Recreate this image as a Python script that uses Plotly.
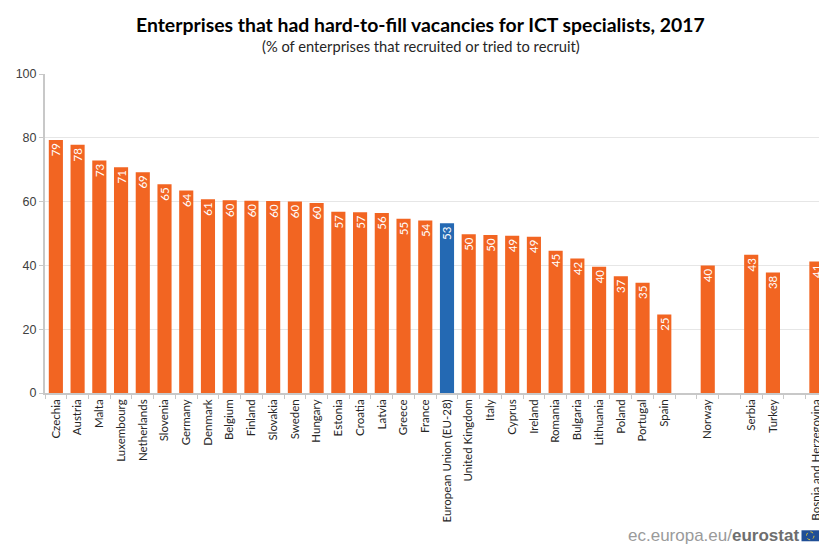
import plotly.graph_objects as go

categories = ["Czechia", "Austria", "Malta", "Luxembourg", "Netherlands", "Slovenia", "Germany",
              "Denmark", "Belgium", "Finland", "Slovakia", "Sweden", "Hungary", "Estonia", "Croatia",
              "Latvia", "Greece", "France", "European Union (EU-28)", "United Kingdom", "Italy",
              "Cyprus", "Ireland", "Romania", "Bulgaria", "Lithuania", "Poland", "Portugal", "Spain",
              " ", "Norway", "  ", "Serbia", "Turkey", "   ", "Bosnia and Herzegovina"]
values = [79.3, 77.8, 72.9, 70.8, 69.2, 65.4, 63.5, 60.7, 60.4, 60.3, 60.2, 60.0, 59.6, 56.8, 56.7,
          56.4, 54.6, 54.1, 53.2, 49.8, 49.5, 49.3, 49.0, 44.6, 42.2, 39.6, 36.6, 34.6, 24.6,
          None, 40.0, None, 43.3, 37.8, None, 41.2]
highlight = "European Union (EU-28)"
colors = ["#2469B3" if c == highlight else "#F26522" for c in categories]
title = "Enterprises that had hard-to-fill vacancies for ICT specialists, 2017"
subtitle = "(% of enterprises that recruited or tried to recruit)"

W, H = 819, 544
L, T, B = 45, 73.5, 151
plot_h = H - T - B
plot_w = W - L


def px(x):
    return (x - L) / plot_w


def py(y):
    return (H - B - y) / plot_h


fig = go.Figure(go.Bar(
    x=categories, y=values, marker=dict(color=colors, line=dict(width=0)),
    texttemplate="%{y:.0f}", textposition="inside", insidetextanchor="end", textangle=-90,
    constraintext="none",
    insidetextfont=dict(color="white", size=11.5, family="Lato"), cliponaxis=True, width=0.65,
))
fig.update_layout(
    width=W, height=H, autosize=False, showlegend=False,
    margin=dict(l=L, r=0, t=T, b=B, pad=0),
    paper_bgcolor="white", plot_bgcolor="white",
    font=dict(family="Lato", color="#404040"),
    xaxis=dict(type="category", range=[-0.5, 35.12], categoryorder="array", categoryarray=categories,
               tickson="boundaries", ticks="outside", ticklen=4, tickcolor="#C8C8C8", tickwidth=1,
               tickangle=-90, tickfont=dict(size=11.5, color="#262626", family="Lato"), tickmode="array",
               tickvals=categories, ticktext=categories,
               showline=True, linecolor="#C8C8C8", linewidth=1.5, showgrid=False, automargin=False),
    yaxis=dict(range=[0, 100], dtick=20, ticks="outside", ticklen=4, tickcolor="#C8C8C8",
               tickfont=dict(size=12.5, color="#404040", family="Liberation Sans"),
               showline=True, linecolor="#C8C8C8", linewidth=2, showgrid=True, gridcolor="#E6E6E6",
               gridwidth=1, zeroline=False, automargin=False),
)
fig.add_annotation(text=f"<b>{title}</b>", x=px(420.5), y=py(24), xref="paper", yref="paper",
                   showarrow=False, font=dict(size=19.4, color="#000000", family="Lato"), yanchor="middle")
fig.add_annotation(text=subtitle, x=px(421), y=py(45), xref="paper", yref="paper", showarrow=False,
                   font=dict(size=14.7, color="#262626", family="Lato"), yanchor="middle")
fig.add_annotation(text='<span style="color:#9A9A9A">ec.europa.eu/</span><b style="color:#6E6E6E">eurostat</b>',
                   x=px(801), y=py(536), xref="paper", yref="paper", showarrow=False,
                   xanchor="right", yanchor="middle", font=dict(size=17, family="Liberation Sans"))
fig.add_shape(type="rect", xref="paper", yref="paper", line=dict(width=0), fillcolor="#1F4E96",
              x0=px(801.5), x1=px(819), y0=py(541.5), y1=py(530.5))
fig.add_shape(type="circle", xref="paper", yref="paper", line=dict(width=1, color="#D8C23A", dash="dot"),
              x0=px(806.5), x1=px(814), y0=py(540), y1=py(532))
fig.write_html("out.html", config={"displayModeBar": False},
               post_script="document.body.style.margin='0';document.documentElement.style.overflow='hidden';")
